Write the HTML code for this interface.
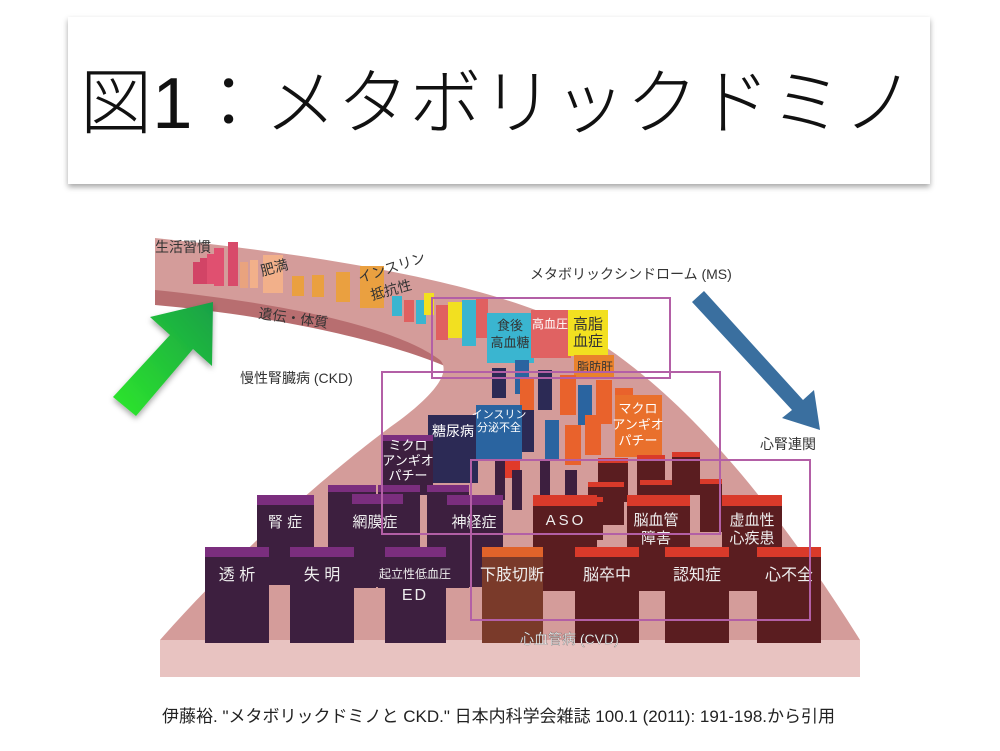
<!DOCTYPE html>
<html><head><meta charset="utf-8"><style>
html,body{margin:0;padding:0;background:#fff;}
svg{display:block;font-family:"Liberation Sans","Noto Sans CJK JP",sans-serif;}
</style></head><body>
<svg width="1000" height="751" viewBox="0 0 1000 751" xmlns="http://www.w3.org/2000/svg">
<defs>
<filter id="sh" x="-5%" y="-10%" width="110%" height="130%"><feDropShadow dx="0" dy="3" stdDeviation="3" flood-color="#000" flood-opacity="0.35"/></filter>
<linearGradient id="gg" x1="0" y1="1" x2="1" y2="0"><stop offset="0" stop-color="#2ee82a"/><stop offset="1" stop-color="#18a048"/></linearGradient>
</defs>
<rect x="68" y="17" width="862" height="167" fill="#fff" filter="url(#sh)"/>
<text x="80" y="128" font-size="72" fill="#111" font-weight="300" textLength="835" lengthAdjust="spacingAndGlyphs">図1：メタボリックドミノ</text>

<!-- base slab -->
<rect x="160" y="640" width="700" height="37" fill="#e8c3c1"/>
<!-- road side band -->
<path d="M155,288 C300,300 420,330 470,360 L470,378 C420,350 300,318 155,305 Z" fill="#b86e70"/>
<!-- road surface -->
<path d="M155,238 C320,255 470,280 560,320 C660,370 760,480 860,640 L160,640 C230,560 330,470 400,420 C440,390 450,370 440,360 C400,330 300,305 155,290 Z" fill="#d49c9a"/>

<!-- top small bars -->
<g>
<rect x="193" y="262" width="8" height="22" fill="#d24466"/><rect x="200" y="258" width="8" height="26" fill="#d24466"/><rect x="207" y="254" width="8" height="30" fill="#e05070"/>
<rect x="214" y="248" width="10" height="38" fill="#e05070"/><rect x="228" y="242" width="10" height="44" fill="#d84a6a"/>
<rect x="240" y="262" width="8" height="26" fill="#e9a37e"/><rect x="250" y="260" width="8" height="28" fill="#f2b08a"/><rect x="263" y="255" width="20" height="38" fill="#f2b08a"/>
<rect x="292" y="276" width="12" height="20" fill="#eaa040"/><rect x="312" y="275" width="12" height="22" fill="#eaa040"/>
<rect x="336" y="272" width="14" height="30" fill="#eaa040"/><rect x="360" y="266" width="24" height="42" fill="#eaa040"/>
<rect x="392" y="296" width="10" height="20" fill="#3ab5d0"/><rect x="404" y="300" width="10" height="22" fill="#e06060"/>
<rect x="416" y="300" width="10" height="24" fill="#3ab5d0"/><rect x="424" y="293" width="10" height="22" fill="#f2e020"/>
<rect x="436" y="305" width="12" height="35" fill="#e06060"/><rect x="448" y="302" width="14" height="36" fill="#f2e020"/>
<rect x="462" y="300" width="14" height="46" fill="#3ab5d0"/><rect x="476" y="298" width="12" height="40" fill="#e06060"/>
</g>
<!-- MS labelled bars -->
<rect x="487" y="313" width="47" height="50" fill="#3ab5d0"/>
<rect x="531" y="310" width="40" height="48" fill="#e06262"/>
<rect x="568" y="310" width="40" height="46" fill="#f2e020"/>
<rect x="574" y="355" width="40" height="22" fill="#e9822c"/>
<text x="510" y="330" font-size="13" fill="#333" text-anchor="middle">食後</text>
<text x="510" y="347" font-size="13" fill="#333" text-anchor="middle">高血糖</text>
<text x="550" y="328" font-size="12" fill="#fff" text-anchor="middle">高血圧</text>
<text x="588" y="329" font-size="15" fill="#333" text-anchor="middle">高脂</text>
<text x="588" y="346" font-size="15" fill="#333" text-anchor="middle">血症</text>
<text x="595" y="371" font-size="12" fill="#333" text-anchor="middle">脂肪肝</text>

<!-- middle scattered -->
<g>
<rect x="492" y="368" width="14" height="30" fill="#2c2a55"/><rect x="515" y="360" width="14" height="34" fill="#2a64a0"/>
<rect x="520" y="378" width="14" height="40" fill="#e9622c"/><rect x="538" y="370" width="14" height="40" fill="#2c2a55"/>
<rect x="560" y="375" width="16" height="40" fill="#e9622c"/><rect x="578" y="385" width="14" height="40" fill="#2a64a0"/>
<rect x="596" y="380" width="16" height="44" fill="#e9622c"/><rect x="615" y="388" width="18" height="46" fill="#e9622c"/>
<rect x="520" y="410" width="14" height="42" fill="#2c2a55"/><rect x="545" y="420" width="14" height="40" fill="#2a64a0"/>
<rect x="565" y="425" width="16" height="40" fill="#e9622c"/><rect x="585" y="415" width="16" height="40" fill="#e9622c"/>
<rect x="500" y="432" width="20" height="46" fill="#e03a2a"/><rect x="495" y="460" width="10" height="40" fill="#3d1f3f"/>
<rect x="512" y="470" width="10" height="40" fill="#3d1f3f"/><rect x="540" y="460" width="10" height="38" fill="#3d1f3f"/>
<rect x="565" y="470" width="12" height="30" fill="#3d1f3f"/>
</g>
<rect x="615" y="395" width="47" height="62" fill="#e9702c"/>
<text x="638" y="413" font-size="13" fill="#fff" text-anchor="middle">マクロ</text>
<text x="638" y="429" font-size="13" fill="#fff" text-anchor="middle">アンギオ</text>
<text x="638" y="445" font-size="13" fill="#fff" text-anchor="middle">パチー</text>
<rect x="428" y="415" width="50" height="68" fill="#2c2a55"/>
<text x="453" y="436" font-size="14" fill="#fff" text-anchor="middle">糖尿病</text>
<rect x="476" y="405" width="46" height="56" fill="#2a64a0"/>
<text x="499" y="418" font-size="11" fill="#fff" text-anchor="middle">インスリン</text>
<text x="499" y="431" font-size="11" fill="#fff" text-anchor="middle">分泌不全</text>
<rect x="383" y="435" width="50" height="60" fill="#3d1f3f"/><rect x="383" y="435" width="50" height="6" fill="#7b2e7e"/>
<text x="408" y="450" font-size="13" fill="#fff" text-anchor="middle">ミクロ</text>
<text x="408" y="465" font-size="13" fill="#fff" text-anchor="middle">アンギオ</text>
<text x="408" y="480" font-size="13" fill="#fff" text-anchor="middle">パチー</text>

<!-- back red small -->
<g fill="#5a1d20">
<rect x="598" y="462" width="30" height="40"/><rect x="637" y="458" width="28" height="40"/><rect x="672" y="455" width="28" height="40"/>
<rect x="588" y="485" width="36" height="40"/><rect x="640" y="483" width="32" height="40"/><rect x="700" y="482" width="22" height="50"/>
<rect x="563" y="500" width="40" height="40"/>
</g>
<g fill="#d93a2a">
<rect x="598" y="458" width="30" height="5"/><rect x="637" y="455" width="28" height="5"/><rect x="672" y="452" width="28" height="5"/>
<rect x="588" y="482" width="36" height="5"/><rect x="640" y="480" width="32" height="5"/><rect x="700" y="479" width="22" height="5"/>
<rect x="563" y="497" width="40" height="5"/>
</g>

<!-- second row -->
<g>
<rect x="328" y="488" width="48" height="100" fill="#3d1f3f"/><rect x="328" y="485" width="48" height="7" fill="#7b2e7e"/>
<rect x="378" y="488" width="42" height="100" fill="#3d1f3f"/><rect x="378" y="485" width="42" height="7" fill="#7b2e7e"/>
<rect x="427" y="488" width="42" height="100" fill="#3d1f3f"/><rect x="427" y="485" width="42" height="7" fill="#7b2e7e"/>
<rect x="257" y="505" width="57" height="80" fill="#3d1f3f"/><rect x="257" y="495" width="57" height="10" fill="#7b2e7e"/>
<rect x="352" y="502" width="51" height="85" fill="#3d1f3f"/><rect x="352" y="494" width="51" height="10" fill="#7b2e7e"/>
<rect x="447" y="504" width="56" height="83" fill="#3d1f3f"/><rect x="447" y="495" width="56" height="10" fill="#7b2e7e"/>
<rect x="533" y="506" width="64" height="85" fill="#5a1d20"/><rect x="533" y="495" width="64" height="11" fill="#d93a2a"/>
<rect x="627" y="506" width="63" height="85" fill="#5a1d20"/><rect x="627" y="495" width="63" height="11" fill="#d93a2a"/>
<rect x="722" y="506" width="60" height="85" fill="#5a1d20"/><rect x="722" y="495" width="60" height="11" fill="#d93a2a"/>
</g>
<g font-size="15" fill="#eee" text-anchor="middle">
<text x="285" y="527">腎 症</text><text x="375" y="527">網膜症</text><text x="474" y="527">神経症</text>
<text x="566" y="525" letter-spacing="3">ASO</text><text x="656" y="525">脳血管</text><text x="656" y="543">障害</text>
<text x="752" y="525">虚血性</text><text x="752" y="543">心疾患</text>
</g>

<!-- front row -->
<g>
<rect x="205" y="557" width="64" height="86" fill="#3d1f3f"/><rect x="205" y="547" width="64" height="10" fill="#7b2e7e"/>
<rect x="290" y="557" width="64" height="86" fill="#3d1f3f"/><rect x="290" y="547" width="64" height="10" fill="#7b2e7e"/>
<rect x="385" y="557" width="61" height="86" fill="#3d1f3f"/><rect x="385" y="547" width="61" height="10" fill="#7b2e7e"/>
<rect x="482" y="557" width="61" height="86" fill="#7a3a2a"/><rect x="482" y="547" width="61" height="10" fill="#e0632a"/>
<rect x="575" y="557" width="64" height="86" fill="#5a1d20"/><rect x="575" y="547" width="64" height="10" fill="#d93a2a"/>
<rect x="665" y="557" width="64" height="86" fill="#5a1d20"/><rect x="665" y="547" width="64" height="10" fill="#d93a2a"/>
<rect x="757" y="557" width="64" height="86" fill="#5a1d20"/><rect x="757" y="547" width="64" height="10" fill="#d93a2a"/>
</g>
<g font-size="16" fill="#eee" text-anchor="middle">
<text x="237" y="580">透 析</text><text x="322" y="580">失 明</text>
<text x="415" y="578" font-size="12">起立性低血圧</text><text x="415" y="600" letter-spacing="2">ED</text>
<text x="512" y="580">下肢切断</text><text x="607" y="580">脳卒中</text><text x="697" y="580">認知症</text><text x="789" y="580">心不全</text>
</g>

<!-- outline boxes -->
<g fill="none" stroke="#b35fa6" stroke-width="2">
<rect x="432" y="298" width="238" height="80"/>
<rect x="382" y="372" width="338" height="162"/>
<rect x="471" y="460" width="339" height="160"/>
</g>

<!-- labels -->
<g font-size="14" fill="#333">
<text x="155" y="252">生活習慣</text>
<text x="262" y="276" transform="rotate(-15 262 276)">肥満</text>
<text x="360" y="283" transform="rotate(-18 360 283)">インスリン</text>
<text x="372" y="300" transform="rotate(-15 372 300)">抵抗性</text>
<text x="258" y="318" transform="rotate(8 258 318)">遺伝・体質</text>
<text x="530" y="279">メタボリックシンドローム (MS)</text>
<text x="240" y="383">慢性腎臓病 (CKD)</text>
<text x="760" y="449">心腎連関</text>
<text x="520" y="644" fill="#fff" stroke="#555" stroke-width="0.3">心血管病 (CVD)</text>
</g>
<text x="162" y="722" font-size="17" fill="#222">伊藤裕. "メタボリックドミノと CKD." 日本内科学会雑誌 100.1 (2011): 191-198.から引用</text>

<!-- arrows -->
<path d="M113,397 L170,335 L150,317 L213,302 L212,366 L193,349 L136,416 Z" fill="url(#gg)" filter="url(#sh)"/>
<path d="M692,302 L704,291 L803,400 L814,390 L820,430 L782,418 L792,410 Z" fill="#3a6f9f"/>
</svg>
</body></html>
